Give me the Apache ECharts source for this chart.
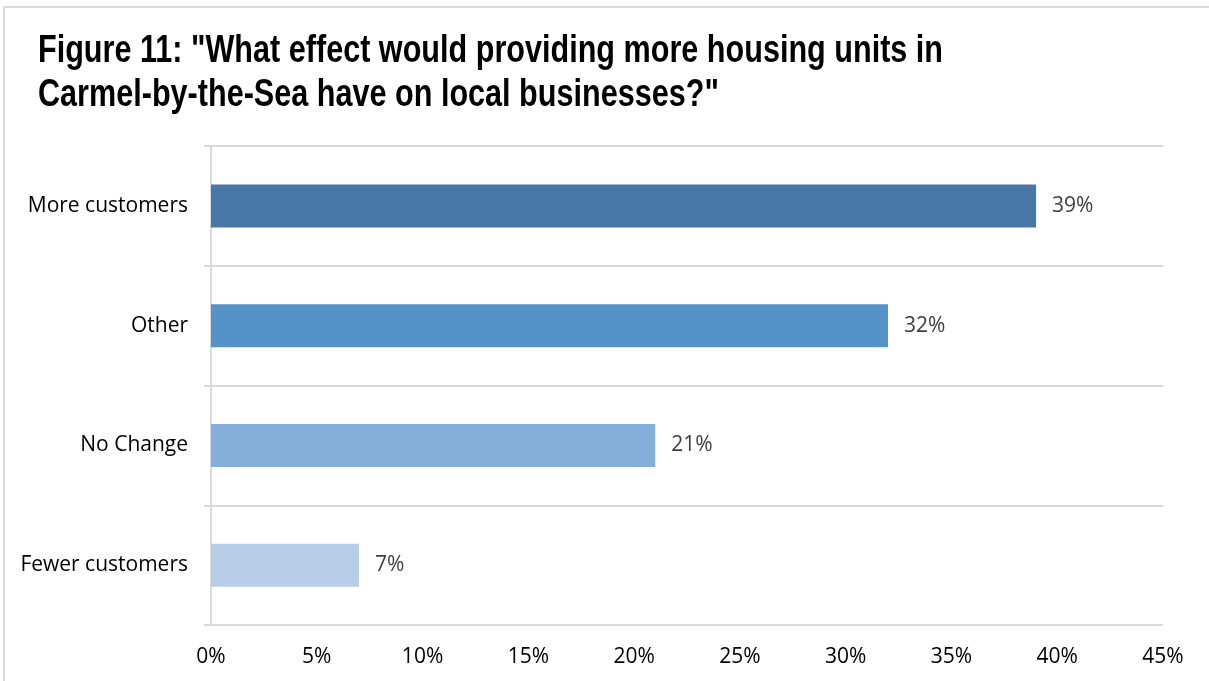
<!DOCTYPE html>
<html>
<head>
<meta charset="utf-8">
<script src="https://cdn.jsdelivr.net/npm/echarts@6/dist/echarts.min.js"></script>
<style>
html,body{margin:0;padding:0;background:#fff;}
#chart{width:1209px;height:681px;}
</style>
</head>
<body>
<div id="chart"></div>
<script>
const titleText = 'Figure 11: "What effect would providing more housing units in\nCarmel-by-the-Sea have on local businesses?"';
const categories = ['More customers', 'Other', 'No Change', 'Fewer customers'];
const values = [39, 32, 21, 7];
const barColors = ['#4677A7', '#5592C8', '#85AEDB', '#B7CDE8'];
const xTicks = [0, 5, 10, 15, 20, 25, 30, 35, 40, 45];

const chart = echarts.init(document.getElementById('chart'), null, {renderer: 'canvas'});
const labelFont = '"Open Sans", "Liberation Sans", sans-serif';
chart.setOption({
  animation: false,
  backgroundColor: '#fff',
  graphic: [{
    type: 'rect',
    shape: {x: 4, y: 7, width: 1400, height: 900},
    style: {fill: 'none', stroke: '#D9D9D9', lineWidth: 2},
    silent: true
  }, {
    type: 'text',
    x: 38,
    y: 30,
    scaleX: 0.805,
    silent: true,
    style: {
      text: titleText,
      fontFamily: '"Liberation Sans", Arial, sans-serif',
      fontWeight: 'bold',
      fontSize: 38,
      lineHeight: 44,
      fill: '#000',
      textVerticalAlign: 'top'
    }
  }],
  grid: {left: 211, right: 46, top: 146, bottom: 56, containLabel: false},
  xAxis: {
    type: 'value',
    min: xTicks[0],
    max: xTicks[xTicks.length - 1],
    interval: 5,
    axisLine: {show: false},
    axisTick: {show: false},
    splitLine: {show: false},
    axisLabel: {
      formatter: v => v + '%',
      fontFamily: labelFont,
      fontSize: 21,
      color: '#000',
      margin: 22
    }
  },
  yAxis: {
    type: 'category',
    data: categories,
    inverse: true,
    axisLine: {show: true, lineStyle: {color: '#D9D9D9', width: 2}},
    axisTick: {show: true, length: 7, lineStyle: {color: '#D9D9D9', width: 2}},
    splitLine: {show: true, lineStyle: {color: '#D9D9D9', width: 2}},
    axisLabel: {
      fontFamily: labelFont,
      fontSize: 21,
      color: '#000',
      margin: 23
    }
  },
  series: [{
    type: 'bar',
    data: values.map((v, i) => ({value: v, itemStyle: {color: barColors[i]}})),
    barWidth: 43,
    label: {
      show: true,
      position: 'right',
      distance: 16,
      formatter: p => p.value + '%',
      fontFamily: labelFont,
      fontSize: 21,
      color: '#404040'
    }
  }]
});
</script>
</body>
</html>
